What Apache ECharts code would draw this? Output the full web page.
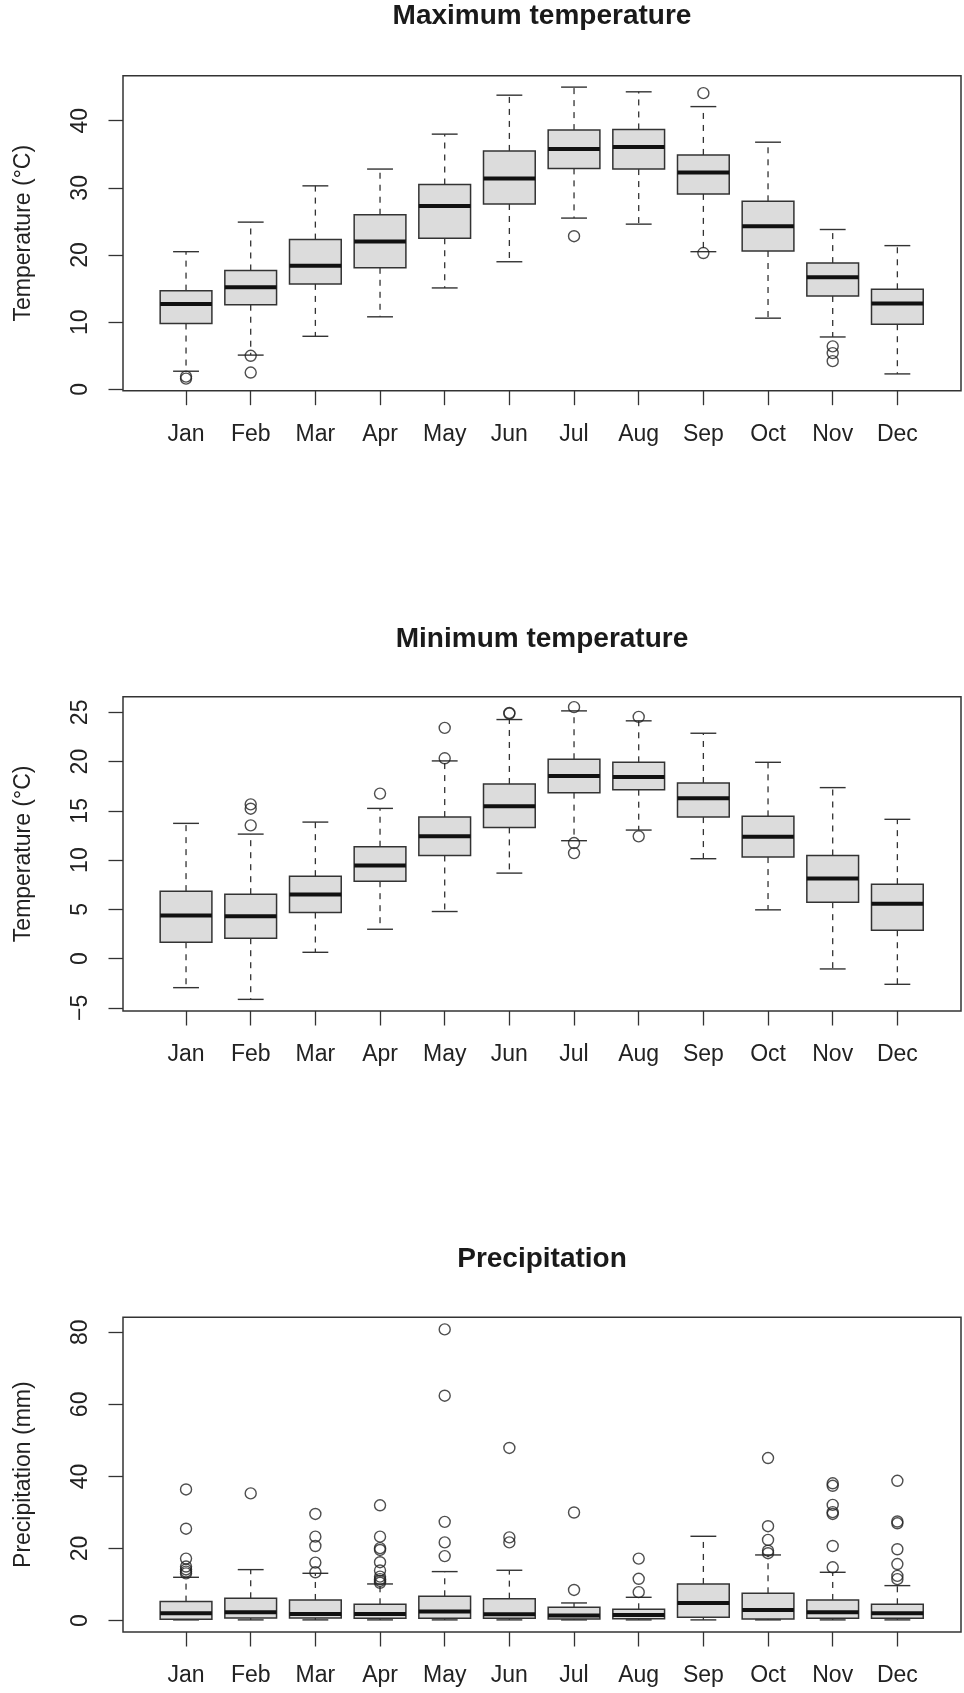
<!DOCTYPE html>
<html lang="en">
<head>
    <meta charset="UTF-8">
    <title>Monthly boxplots</title>
    <style>
        * { margin: 0; padding: 0; }
        body { background: #fff; }
        #chart { width: 964px; height: 1693px; }
    </style>
</head>
<body>
    <div id="chart"></div>
    <script src="https://cdn.jsdelivr.net/npm/echarts@6.0.0/dist/echarts.min.js"></script>
    <script>
        var months = ['Jan', 'Feb', 'Mar', 'Apr', 'May', 'Jun', 'Jul', 'Aug', 'Sep', 'Oct', 'Nov', 'Dec'];

        // [lower whisker, Q1, median, Q3, upper whisker] per month
        var maxTempBox = [
            [2.7, 9.8, 12.7, 14.7, 20.5], [5.1, 12.6, 15.2, 17.7, 24.9], [7.9, 15.7, 18.4, 22.3, 30.3],
            [10.8, 18.1, 22.0, 26.0, 32.8], [15.1, 22.5, 27.3, 30.5, 38.0], [19.0, 27.6, 31.4, 35.5, 43.8],
            [25.5, 32.9, 35.8, 38.6, 45.0], [24.6, 32.8, 36.1, 38.7, 44.3], [20.5, 29.1, 32.3, 34.9, 42.1],
            [10.6, 20.6, 24.3, 28.0, 36.8], [7.8, 13.9, 16.7, 18.8, 23.8], [2.3, 9.7, 12.8, 14.9, 21.4]
        ];
        // [month index, value]
        var maxTempOut = [
            [0, 1.6], [0, 1.9], [1, 5.0], [1, 2.5], [6, 22.8], [8, 44.1], [8, 20.3],
            [10, 6.4], [10, 5.4], [10, 4.2]
        ];
        var maxTempTicks = [0, 10, 20, 30, 40];

        var minTempBox = [
            [-2.95, 1.66, 4.37, 6.85, 13.73], [-4.14, 2.07, 4.31, 6.54, 12.64], [0.64, 4.68, 6.51, 8.37, 13.86],
            [2.98, 7.86, 9.46, 11.36, 15.25], [4.78, 10.47, 12.41, 14.37, 20.07], [8.68, 13.32, 15.46, 17.73, 24.27],
            [11.97, 16.85, 18.54, 20.24, 25.15], [13.05, 17.15, 18.44, 19.93, 24.14], [10.14, 14.37, 16.27, 17.83, 22.88],
            [4.95, 10.31, 12.37, 14.44, 19.93], [-1.05, 5.73, 8.14, 10.47, 17.36], [-2.61, 2.88, 5.56, 7.56, 14.14]
        ];
        var minTempOut = [
            [1, 13.53], [1, 15.22], [1, 15.66], [3, 16.75], [4, 20.34], [4, 23.42],
            [5, 24.88], [5, 24.95], [6, 25.53], [6, 11.73], [6, 10.71], [7, 24.54], [7, 12.41]
        ];
        var minTempTicks = [-5, 0, 5, 10, 15, 20, 25];

        var precipBox = [
            [0.2, 0.37, 2.03, 5.27, 12.02], [0.2, 0.74, 2.31, 6.2, 14.15], [0.2, 0.74, 1.85, 5.73, 13.13],
            [0.2, 0.65, 1.85, 4.53, 10.17], [0.2, 0.65, 2.5, 6.75, 13.6], [0.2, 0.65, 1.76, 6.1, 13.97],
            [0.2, 0.46, 1.39, 3.7, 4.9], [0.2, 0.55, 1.57, 3.14, 6.47], [0.2, 0.92, 4.9, 10.17, 23.4],
            [0.2, 0.46, 2.96, 7.58, 18.22], [0.2, 0.65, 2.31, 5.73, 13.41], [0.2, 0.65, 2.03, 4.53, 9.71]
        ];
        var precipOut = [
            [0, 36.4], [0, 25.5], [0, 17.2], [0, 15.0], [0, 14.2], [0, 13.6], [0, 13.1],
            [1, 35.3],
            [2, 29.6], [2, 23.3], [2, 20.7], [2, 16.1], [2, 13.4],
            [3, 32.0], [3, 23.3], [3, 20.1], [3, 19.6], [3, 16.2], [3, 13.9], [3, 12.2], [3, 11.5], [3, 11.0], [3, 10.5],
            [4, 80.8], [4, 62.4], [4, 27.4], [4, 21.7], [4, 17.9],
            [5, 47.9], [5, 23.1], [5, 21.7],
            [6, 30.0], [6, 8.5],
            [7, 17.2], [7, 11.6], [7, 7.9],
            [9, 45.1], [9, 26.2], [9, 22.4], [9, 19.4], [9, 18.7],
            [10, 38.1], [10, 37.4], [10, 32.1], [10, 30.1], [10, 29.6], [10, 20.7], [10, 14.8],
            [11, 38.8], [11, 27.5], [11, 27.0], [11, 19.8], [11, 15.7], [11, 12.4], [11, 11.5]
        ];
        var precipTicks = [0, 20, 40, 60, 80];

        var panels = [
            { title: 'Maximum temperature', yName: 'Temperature (°C)', box: maxTempBox, out: maxTempOut, ticks: maxTempTicks,
              top: 75.7, height: 315, min: -0.2, max: 46.7, titleY: 16.2 },
            { title: 'Minimum temperature', yName: 'Temperature (°C)', box: minTempBox, out: minTempOut, ticks: minTempTicks,
              top: 696.7, height: 314.3, min: -5.32, max: 26.59, titleY: 639.2 },
            { title: 'Precipitation', yName: 'Precipitation (mm)', box: precipBox, out: precipOut, ticks: precipTicks,
              top: 1317.3, height: 314.7, min: -3.16, max: 84.16, titleY: 1258.8 }
        ];

        var FONT = 'Liberation Sans, Arial, Helvetica, sans-serif';
        var INK = '#333';
        var frameLeft = 123, frameWidth = 838;
        var plotLeft = 153.7, plotWidth = 776;

        function renderBox(params, api) {
            var i = api.value(0);
            var band = api.size([1, 0])[0];
            var bh = band * 0.4, ch = band * 0.2;
            var lo = api.coord([i, api.value(1)]);
            var q1 = api.coord([i, api.value(2)]);
            var md = api.coord([i, api.value(3)]);
            var q3 = api.coord([i, api.value(4)]);
            var hi = api.coord([i, api.value(5)]);
            var x = md[0];
            var dashed = { stroke: INK, lineWidth: 1.3, lineDash: [6, 6] };
            var solid = { stroke: INK, lineWidth: 1.4 };
            return {
                type: 'group',
                children: [
                    { type: 'line', shape: { x1: x, y1: q3[1], x2: x, y2: hi[1] }, style: dashed },
                    { type: 'line', shape: { x1: x, y1: q1[1], x2: x, y2: lo[1] }, style: dashed },
                    { type: 'line', shape: { x1: x - ch, y1: hi[1], x2: x + ch, y2: hi[1] }, style: solid },
                    { type: 'line', shape: { x1: x - ch, y1: lo[1], x2: x + ch, y2: lo[1] }, style: solid },
                    { type: 'rect', shape: { x: x - bh, y: q3[1], width: bh * 2, height: q1[1] - q3[1] },
                      style: { fill: '#dcdcdc', stroke: INK, lineWidth: 1.5 } },
                    { type: 'line', shape: { x1: x - bh, y1: md[1], x2: x + bh, y2: md[1] },
                      style: { stroke: '#111', lineWidth: 4 } }
                ]
            };
        }

        var option = {
            animation: false,
            backgroundColor: '#fff',
            title: [], grid: [], xAxis: [], yAxis: [], series: [], graphic: []
        };

        panels.forEach(function (p, k) {
            option.title.push({
                text: p.title, left: frameLeft + frameWidth / 2, top: p.titleY - 14, textAlign: 'center', padding: 0,
                textStyle: { fontFamily: FONT, fontSize: 28, fontWeight: 'bold', color: '#1a1a1a' }
            });
            option.grid.push({ left: plotLeft, width: plotWidth, top: p.top, height: p.height });
            option.xAxis.push({
                type: 'category', gridIndex: k, data: months, boundaryGap: true,
                axisLine: { show: false, onZero: false },
                axisTick: { show: true, alignWithLabel: true, length: 14.5, lineStyle: { color: INK, width: 1.3 } },
                axisLabel: { interval: 0, margin: 44, verticalAlign: 'middle', fontFamily: FONT, fontSize: 23, color: '#222' },
                splitLine: { show: false }
            });
            option.yAxis.push({
                type: 'value', gridIndex: k, min: p.min, max: p.max, offset: plotLeft - frameLeft,
                name: p.yName, nameLocation: 'middle', nameGap: 99.5, nameRotate: 90,
                nameTextStyle: { fontFamily: FONT, fontSize: 23, color: '#222', align: 'center', verticalAlign: 'middle' },
                axisLine: { show: false },
                axisTick: { show: true, length: 14.5, customValues: p.ticks, lineStyle: { color: INK, width: 1.3 } },
                axisLabel: {
                    customValues: p.ticks, rotate: 90, margin: 42, align: 'center', verticalAlign: 'middle',
                    fontFamily: FONT, fontSize: 23, color: '#222',
                    formatter: function (v) { return String(v).replace('-', '\u2212'); }
                },
                splitLine: { show: false }
            });
            option.series.push({
                type: 'custom', xAxisIndex: k, yAxisIndex: k, silent: true,
                renderItem: renderBox,
                encode: { x: 0, y: [1, 2, 3, 4, 5] },
                data: p.box.map(function (b, i) { return [i].concat(b); })
            });
            option.series.push({
                type: 'scatter', xAxisIndex: k, yAxisIndex: k, silent: true,
                symbol: 'circle', symbolSize: 11,
                itemStyle: { color: 'rgba(0,0,0,0)', borderColor: '#222', borderWidth: 1.4 },
                data: p.out
            });
            option.graphic.push({
                type: 'rect', z: 100, silent: true,
                shape: { x: frameLeft, y: p.top, width: frameWidth, height: p.height },
                style: { fill: 'none', stroke: INK, lineWidth: 1.5 }
            });
        });

        var myChart = echarts.init(document.getElementById('chart'));
        myChart.setOption(option);
    </script>
</body>
</html>
